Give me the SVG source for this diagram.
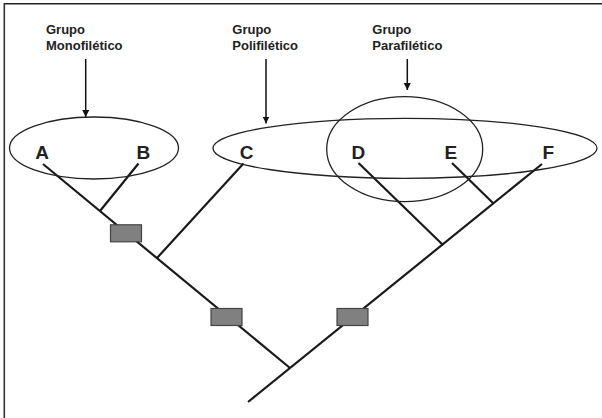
<svg xmlns="http://www.w3.org/2000/svg" width="602" height="418" viewBox="0 0 602 418">
<defs>
<style>
.lbl{font-family:"Liberation Sans",Arial,sans-serif;font-weight:bold;font-size:13px;fill:#222}
.taxon{font-family:"Liberation Sans",Arial,sans-serif;font-weight:bold;font-size:19px;fill:#222;text-anchor:middle}
.br{stroke:#1a1a1a;stroke-width:2.2;fill:none}
.grp{stroke:#222;stroke-width:1.3;fill:none}
.arr{stroke:#111;stroke-width:1.5;fill:none}
.box{fill:#808080;stroke:#444;stroke-width:1.2}
</style>
<marker id="ah" viewBox="0 0 10 10" refX="10" refY="5" markerWidth="7" markerHeight="7" markerUnits="userSpaceOnUse" orient="auto">
<path d="M0,0 L10,5 L0,10 z" fill="#111"/>
</marker>
</defs>
<rect width="602" height="418" fill="#fff"/>
<g id="frame">
<line x1="4.3" y1="3.7" x2="602" y2="3.7" stroke="#222" stroke-width="1.6"/>
<line x1="4.3" y1="3" x2="4.3" y2="418" stroke="#333" stroke-width="1.6"/>
</g>
<g id="connectors">
<line class="br" x1="43" y1="164" x2="290" y2="368"/>
<line class="br" x1="248" y1="402" x2="542" y2="164"/>
<line class="br" x1="138.5" y1="163.5" x2="100" y2="211"/>
<line class="br" x1="243.5" y1="163.5" x2="157" y2="258"/>
<line class="br" x1="358.5" y1="163" x2="443" y2="245"/>
<line class="br" x1="452" y1="163" x2="493.5" y2="203.5"/>
<line class="arr" x1="85.7" y1="59" x2="85.7" y2="117" marker-end="url(#ah)"/>
<line class="arr" x1="266" y1="59" x2="266" y2="123.5" marker-end="url(#ah)"/>
<line class="arr" x1="407.3" y1="59" x2="407.3" y2="90" marker-end="url(#ah)"/>
</g>
<g id="box1"><rect class="box" x="110.5" y="224.8" width="31" height="17"/></g>
<g id="box2"><rect class="box" x="211" y="308.5" width="31" height="17"/></g>
<g id="box3"><rect class="box" x="337" y="308.5" width="31" height="17"/></g>
<g id="grupo-monofiletico">
<ellipse class="grp" cx="94" cy="148" rx="84.5" ry="31"/>
<text class="lbl" x="46" y="34">Grupo</text>
<text class="lbl" x="46" y="49.5">Monofilético</text>
</g>
<g id="grupo-polifiletico">
<ellipse class="grp" cx="405" cy="148.3" rx="192" ry="30"/>
<text class="lbl" x="232.3" y="34">Grupo</text>
<text class="lbl" x="232.3" y="49.5">Polifilético</text>
</g>
<g id="grupo-parafiletico">
<ellipse class="grp" cx="404.7" cy="149.2" rx="78" ry="52.5"/>
<text class="lbl" x="372.3" y="34">Grupo</text>
<text class="lbl" x="372.3" y="49.5">Parafilético</text>
</g>
<g id="taxon-A"><text class="taxon" x="42" y="158.5">A</text></g>
<g id="taxon-B"><text class="taxon" x="143.3" y="158.5">B</text></g>
<g id="taxon-C"><text class="taxon" x="246.5" y="158.5">C</text></g>
<g id="taxon-D"><text class="taxon" x="358.3" y="158.5">D</text></g>
<g id="taxon-E"><text class="taxon" x="450.8" y="158.5">E</text></g>
<g id="taxon-F"><text class="taxon" x="548.3" y="158.5">F</text></g>
</svg>
